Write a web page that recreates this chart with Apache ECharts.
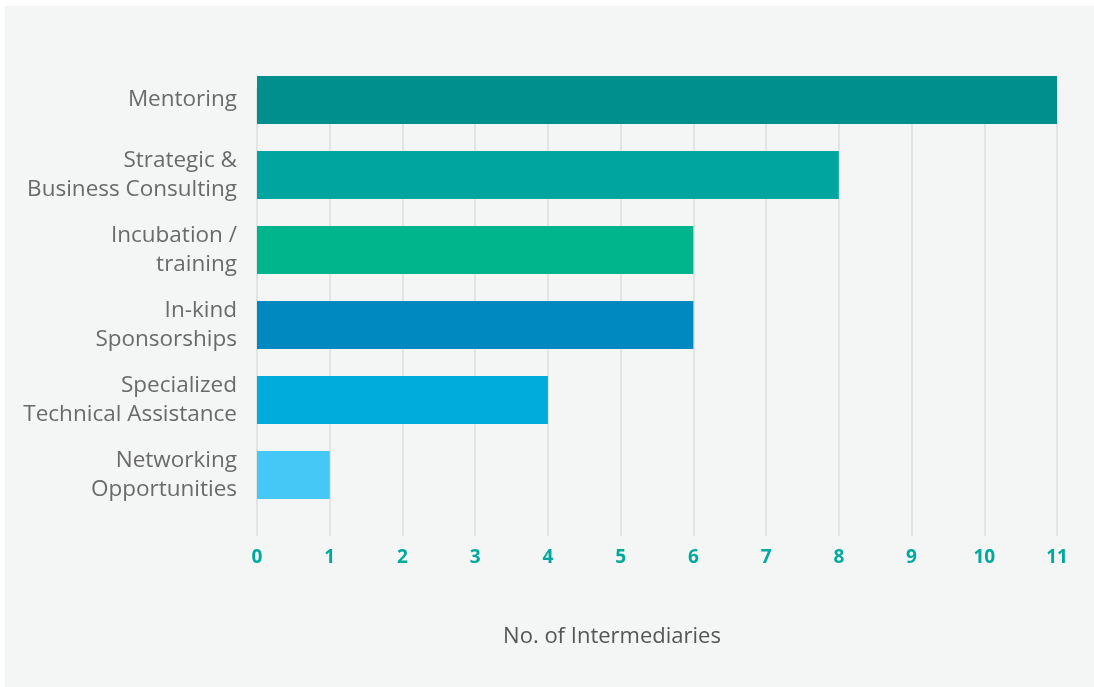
<!DOCTYPE html>
<html>
<head>
<meta charset="utf-8">
<script src="https://cdn.jsdelivr.net/npm/echarts@6/dist/echarts.min.js"></script>
<style>
html,body{margin:0;padding:0;background:#ffffff;}
#c{position:absolute;left:5px;top:6px;width:1089px;height:681px;}
</style>
</head>
<body>
<div id="c"></div>
<script>
const categories = ["Mentoring", "Strategic &\nBusiness Consulting", "Incubation /\ntraining", "In-kind\nSponsorships", "Specialized\nTechnical Assistance", "Networking\nOpportunities"];
const values = [11, 8, 6, 6, 4, 1];
const barColors = ["#008f8c", "#00a59f", "#00b48c", "#0088c0", "#00acdc", "#45c8f5"];
const xTicks = [0, 1, 2, 3, 4, 5, 6, 7, 8, 9, 10, 11];
const axisTitle = "No. of Intermediaries";

const FONT = "'Open Sans', sans-serif";
const chart = echarts.init(document.getElementById('c'));
chart.setOption({
  backgroundColor: '#f4f6f5',
  animation: false,
  grid: [
    {left: 252, right: 37, top: 56.5, bottom: 174.5, containLabel: false},
    {left: 252, right: 37, top: 82, bottom: 151, containLabel: false}
  ],
  xAxis: [
    {
      gridIndex: 0, type: 'value', min: xTicks[0], max: xTicks[xTicks.length - 1], interval: 1,
      axisLine: {show: false}, axisTick: {show: false}, axisLabel: {show: false}, splitLine: {show: false}
    },
    {
      gridIndex: 1, type: 'value', min: xTicks[0], max: xTicks[xTicks.length - 1], interval: 1,
      axisLine: {show: false}, axisTick: {show: false},
      axisLabel: {color: '#00a99d', fontSize: 19, fontWeight: 'bold', fontFamily: FONT, margin: 12},
      splitLine: {show: true, lineStyle: {color: '#dcdcdc', width: 1.5}}
    }
  ],
  yAxis: [
    {
      gridIndex: 0, type: 'category', data: categories, inverse: true,
      axisLine: {show: false}, axisTick: {show: false},
      axisLabel: {color: '#6a6a6a', fontSize: 22.5, fontFamily: FONT, lineHeight: 29, margin: 20, align: 'right', padding: [4, 0, 0, 0]}
    },
    {
      gridIndex: 1, type: 'value', show: false
    }
  ],
  graphic: [{
    type: 'text', x: 607, y: 631,
    style: {text: axisTitle, fill: '#555555', font: "22px 'Open Sans', sans-serif", textAlign: 'center', textVerticalAlign: 'middle'}
  }],
  series: [{
    type: 'bar', xAxisIndex: 0, yAxisIndex: 0, barWidth: '64%',
    data: values.map((v, i) => ({value: v, itemStyle: {color: barColors[i]}}))
  }]
});
</script>
</body>
</html>
